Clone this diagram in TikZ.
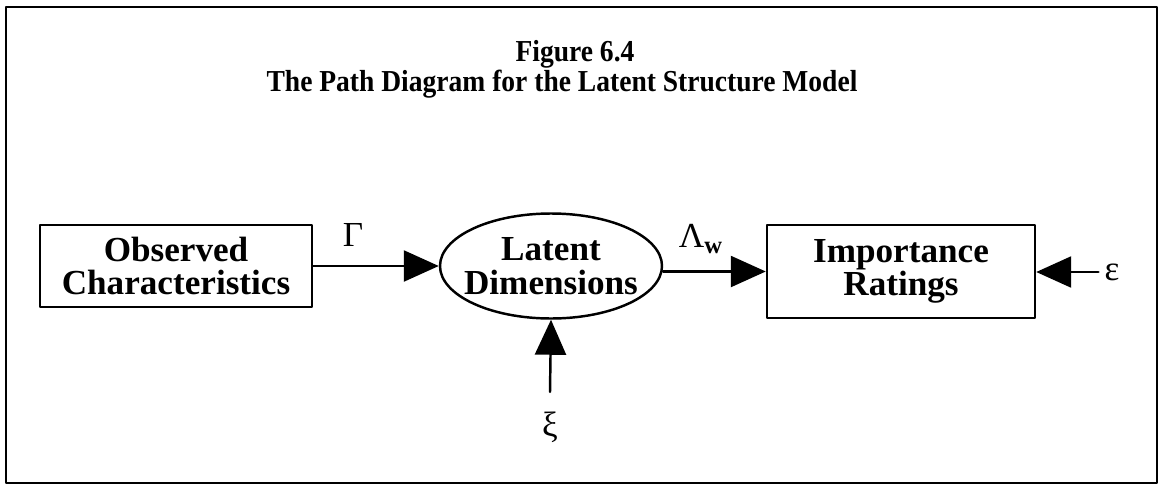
\documentclass[tikz,border=0pt]{standalone}
\usepackage{fontspec}
\setmainfont{Liberation Serif}
\usetikzlibrary{arrows.meta,shapes.geometric}
\begin{document}
\begin{tikzpicture}[line cap=round, line join=round, font=\fontsize{20}{19}\selectfont,
		box/.style={draw, line width=1.4pt, inner sep=0pt, align=center, font=\fontsize{20}{19}\selectfont\bfseries},
		pil/.style={line width=1.4pt, -{Triangle[length=0.7cm, width=0.62cm]}}]
		\useasboundingbox (0,0) rectangle (23.24,9.86);
		\draw[line width=1.2pt] (0.12,0.2) rectangle (23.14,9.72);
		\node[anchor=north, inner sep=0pt, align=center, font=\fontsize{16.5}{14}\selectfont\bfseries] (tit) at (11.24,9.06)
			{\hspace*{0.52cm}\scalebox{0.95}[1.05]{Figure 6.4}\\\scalebox{0.95}[1.05]{The Path Diagram for the Latent Structure Model}};
		\node[box, minimum width=5.44cm, minimum height=1.64cm] (obs) at (3.52,4.54) {Observed\\Characteristics};
		\node[draw, line width=1.4pt, ellipse, inner sep=0pt, minimum width=4.44cm, minimum height=2.1cm] (lat) at (11.02,4.54) {};
		\node[align=center, font=\fontsize{20}{19}\selectfont\bfseries] (lattxt) at (lat) {Latent\\Dimensions};
		\node[box, minimum width=5.36cm, minimum height=1.86cm] (imp) at (18.02,4.43) {Importance\\Ratings};
		\node (eps) at (22.24,4.42) {ε};
		\node (xi) at (11.0,1.32) {ξ};
		\node (gam) at (7.06,5.16) {Γ};
		\node (lam) at (14.02,5.08) {Λ\textsubscript{\bfseries w}};
		\draw[pil] (obs.east) -- (lat.west);
		\draw[pil] (lat.east |- imp.west) -- (imp.west);
		\draw[pil] (eps.west) -- (imp.east |- eps.west);
		\draw[pil] (xi.north |- 0,2.02) -- (lat.south);
\end{tikzpicture}
\end{document}
